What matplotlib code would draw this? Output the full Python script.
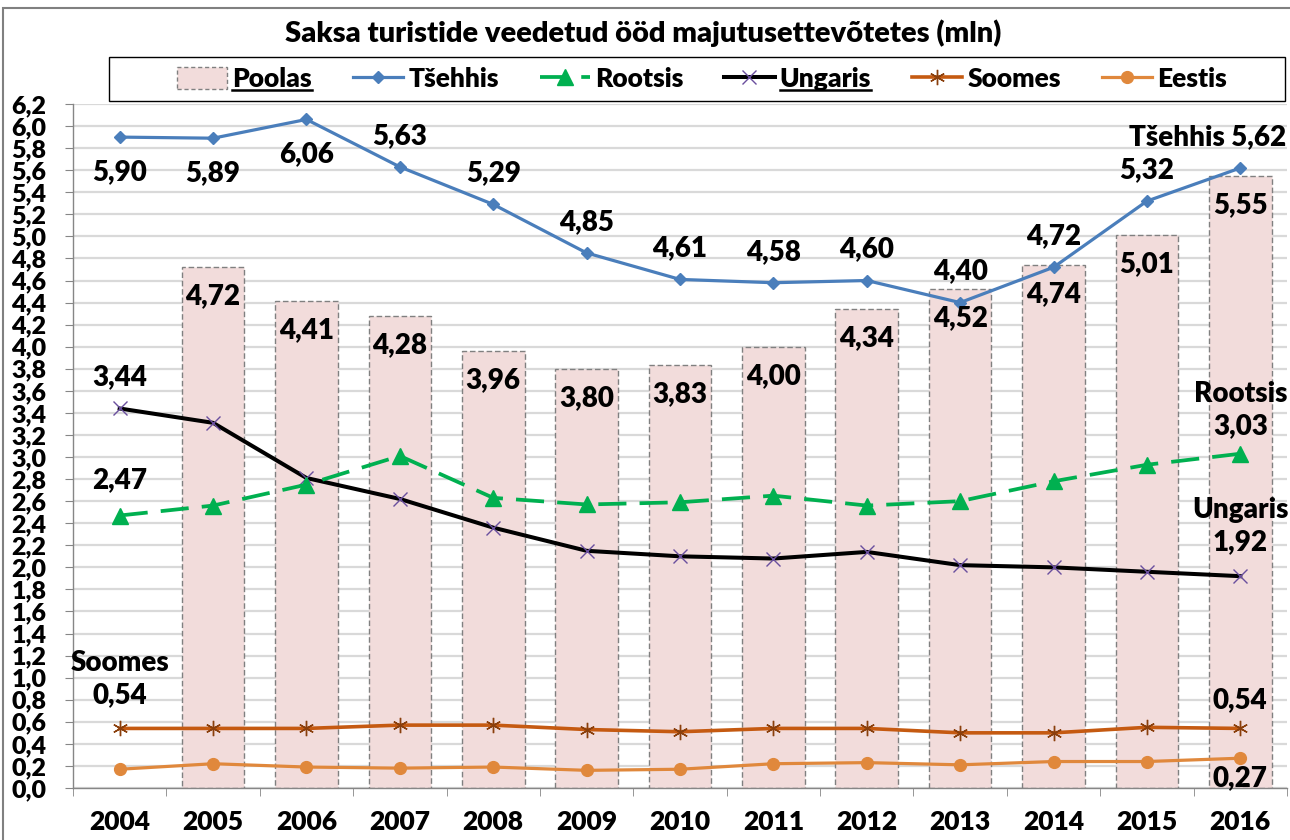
import numpy as np
import matplotlib
matplotlib.use('Agg')
import matplotlib.pyplot as plt
from matplotlib.patches import Rectangle
from matplotlib.lines import Line2D

# ---------------- data ----------------
years = ['2004', '2005', '2006', '2007', '2008', '2009', '2010',
         '2011', '2012', '2013', '2014', '2015', '2016']
poolas = [np.nan, 4.72, 4.41, 4.28, 3.96, 3.80, 3.83, 4.00, 4.34, 4.52, 4.74, 5.01, 5.55]
tsehhis = [5.90, 5.89, 6.06, 5.63, 5.29, 4.85, 4.61, 4.58, 4.60, 4.40, 4.72, 5.32, 5.62]
rootsis = [2.47, 2.56, 2.75, 3.01, 2.63, 2.57, 2.59, 2.65, 2.56, 2.60, 2.78, 2.93, 3.03]
ungaris = [3.44, 3.31, 2.81, 2.62, 2.36, 2.15, 2.10, 2.08, 2.14, 2.02, 2.00, 1.96, 1.92]
soomes = [0.54, 0.54, 0.54, 0.57, 0.57, 0.53, 0.51, 0.54, 0.54, 0.50, 0.50, 0.55, 0.54]
eestis = [0.17, 0.22, 0.19, 0.18, 0.19, 0.16, 0.17, 0.22, 0.23, 0.21, 0.24, 0.24, 0.27]
yticks = [round(0.2 * i, 1) for i in range(32)]

title = 'Saksa turistide veedetud ööd majutusettevõtetes (mln)'
names = ['Poolas', 'Tšehhis', 'Rootsis', 'Ungaris', 'Soomes', 'Eestis']

# ---------------- style ----------------
plt.rcParams['font.family'] = ['Lato', 'DejaVu Sans']
WT = 'heavy'
plt.rcParams['font.weight'] = WT

W, H = 1290, 840
fig = plt.figure(figsize=(W / 100, H / 100), dpi=100)
ax = fig.add_axes([73 / W, 52 / H, (1287 - 73) / W, (788 - 104) / H])

c_bar = '#f2dcdb'
c_bar_edge = '#808080'
c_ts = '#4a7ebb'
c_ro = '#00b050'
c_un = '#000000'
c_so = '#c55a11'
c_ee = '#e0883c'

x = np.arange(len(years))
LFS = 20


def fmt(v):
    return f'{v:.2f}'.replace('.', ',')


ax.bar(x, poolas, width=0.67, color=c_bar, edgecolor=c_bar_edge,
       linestyle=(0, (4, 2)), linewidth=1.0, zorder=2)

ax.plot(x, eestis, color=c_ee, lw=2.3, marker='o', ms=8.5, zorder=4)
ax.plot(x, soomes, color=c_so, lw=2.6, marker=(6, 2, 0), ms=11,
        mec='#8a3f0c', mew=1.0, zorder=4)
ax.plot(x, ungaris, color=c_un, lw=2.9, marker='x', ms=9.5,
        mec='#6a4f9e', mew=1.0, zorder=4)
ax.plot(x, rootsis, color=c_ro, lw=2.7, dashes=(7.5, 3.5), marker='^',
        ms=11, zorder=4)
ax.plot(x, tsehhis, color=c_ts, lw=2.3, marker='D', ms=6.5, zorder=5)


def lab(xi, v, text, dx, dy):
    ax.annotate(text, (xi, v), xytext=(dx, dy), textcoords='offset pixels',
                ha='center', va='center', fontsize=LFS, fontweight=WT,
                color='black', zorder=6, linespacing=1.3)


# bar labels (inside top)
for xi, v in zip(x, poolas):
    if not np.isnan(v):
        lab(xi, v, fmt(v), 0, -29)

# Tšehhis labels
for i, (xi, v) in enumerate(zip(x, tsehhis)):
    if i == len(x) - 1:
        lab(xi, v, 'Tšehhis ' + fmt(v), -33, 31)
    elif i <= 2:
        lab(xi, v, fmt(v), 0, -35)
    else:
        lab(xi, v, fmt(v), 0, 31)

lab(x[0], ungaris[0], fmt(ungaris[0]), 0, 31)
lab(x[-1], ungaris[-1], 'Ungaris\n' + fmt(ungaris[-1]), 0, 50)
lab(x[0], rootsis[0], fmt(rootsis[0]), 0, 35)
lab(x[-1], rootsis[-1], 'Rootsis\n' + fmt(rootsis[-1]), 0, 44)
lab(x[0], soomes[0], 'Soomes\n' + fmt(soomes[0]), 0, 49)
lab(x[-1], soomes[-1], fmt(soomes[-1]), 0, 28)
lab(x[-1], eestis[-1], fmt(eestis[-1]), 0, -20)

# axes
ax.set_xlim(-0.5, len(x) - 0.5)
ax.set_ylim(0, 6.2)
ax.set_yticks(yticks)
ax.set_yticklabels([f'{t:.1f}'.replace('.', ',') for t in yticks],
                   fontsize=18, fontweight=WT)
ax.set_xticks(x)
ax.set_xticklabels(years, fontsize=19, fontweight=WT)
ax.set_xticks(np.arange(len(x) + 1) - 0.5, minor=True)
ax.tick_params(axis='x', which='major', length=0, pad=16)
ax.tick_params(axis='x', which='minor', length=6, color='#868686', direction='out')
ax.tick_params(axis='y', which='major', length=6, color='#868686', direction='out', pad=13)

ax.set_axisbelow(True)
ax.yaxis.grid(True, color='#d9d9d9', lw=1.6, zorder=0)
for s in ['top', 'right']:
    ax.spines[s].set_visible(False)
for s in ['left', 'bottom']:
    ax.spines[s].set_color('#868686')
    ax.spines[s].set_linewidth(1.0)

# title
fig.text(643 / W, 1 - 33 / H, title, ha='center', va='center',
         fontsize=21, fontweight=WT)

# outer chart border
fig.add_artist(Rectangle((3 / W, -0.1), 1.2, 1 - 8 / H + 0.1, transform=fig.transFigure,
                         fill=False, edgecolor='#808080', lw=1.5))

# legend frame
fig.add_artist(Rectangle((109 / W, 1 - 101 / H), (1285 - 109) / W, 44 / H,
                         transform=fig.transFigure, fill=False,
                         edgecolor='black', lw=1.0))

handles = [
    Rectangle((0, 0), 1, 1, facecolor=c_bar, edgecolor=c_bar_edge,
              linestyle=(0, (3, 2)), lw=1.0),
    Line2D([], [], color=c_ts, lw=2.3, marker='D', ms=6.5),
    Line2D([], [], color=c_ro, lw=2.7, dashes=(7.5, 3.5), marker='^', ms=11),
    Line2D([], [], color=c_un, lw=2.9, marker='x', ms=9.5, mec='#6a4f9e', mew=1.0),
    Line2D([], [], color=c_so, lw=2.6, marker=(6, 2, 0), ms=11, mec='#8a3f0c', mew=1.0),
    Line2D([], [], color=c_ee, lw=2.3, marker='o', ms=8.5),
]
leg = fig.legend(handles, names, loc='center', bbox_to_anchor=(702 / W, 1 - 79 / H),
                 ncol=6, frameon=False, handlelength=1.9,
                 handletextpad=0.2, columnspacing=1.55, handleheight=0.9,
                 prop={'weight': WT, 'size': 19})

fig.canvas.draw()
r = fig.canvas.get_renderer()
for t in leg.get_texts():
    if t.get_text() in ('Poolas', 'Ungaris'):
        bb = t.get_window_extent(r)
        y = (bb.y0 + 1) / H
        fig.add_artist(Line2D([bb.x0 / W, bb.x1 / W], [y, y],
                              transform=fig.transFigure, color='black', lw=1.8))

fig.savefig('out.png', dpi=100)
